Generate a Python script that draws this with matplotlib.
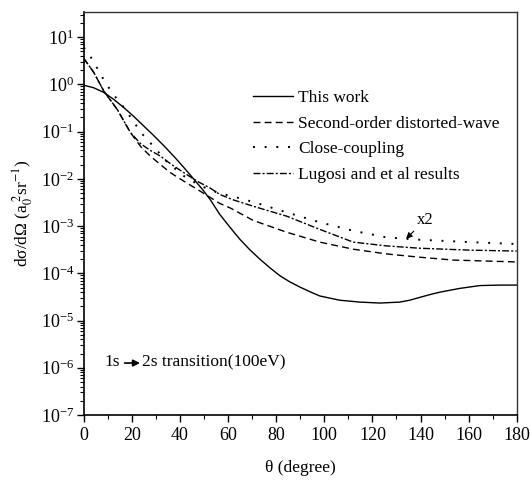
import numpy as np
import matplotlib
matplotlib.use("Agg")
import matplotlib.pyplot as plt

plt.rcParams['font.family'] = ['Liberation Serif', 'DejaVu Serif']
plt.rcParams['mathtext.fontset'] = 'stix'

# ---------------------------------------------------------------
# 1s -> 2s differential cross sections at 100 eV (log10 values)
# ---------------------------------------------------------------
theta_this = [0, 4, 8.3, 12.5, 16.6, 20.8, 24.9, 29, 33.3, 37.4, 41.6, 45.8,
              49.9, 52.7, 56.5, 60.7, 64.9, 69, 73.2, 77.3, 81.5, 85.6, 89.8,
              94, 98.1, 106.4, 114.8, 123.1, 131.4, 135.5, 139.7, 144, 148,
              156.3, 164.7, 173, 180]
log_this = [-0.02, -0.07, -0.17, -0.32, -0.49, -0.68, -0.88, -1.08, -1.30,
            -1.52, -1.76, -2.01, -2.26, -2.45, -2.75, -3.02, -3.28, -3.50,
            -3.70, -3.88, -4.05, -4.18, -4.29, -4.39, -4.48, -4.57, -4.61,
            -4.63, -4.61, -4.57, -4.51, -4.45, -4.40, -4.32, -4.26, -4.25, -4.25]

theta_dw = [0, 4.2, 8.3, 13.9, 19.4, 23.7, 27.7, 31.9, 36, 41.6, 47.1, 56.5,
            61, 70.4, 84.3, 98.1, 112, 125.8, 139.7, 153.6, 180]
log_dw = [0.55, 0.25, -0.14, -0.53, -1.02, -1.32, -1.52, -1.70, -1.87, -2.05,
          -2.22, -2.52, -2.62, -2.88, -3.13, -3.34, -3.49, -3.59, -3.66, -3.72,
          -3.76]

theta_cc = [0, 2.1, 5.5, 8.5, 11.8, 17.3, 20.8, 24.3, 29.1, 34.6, 41.6, 48.5,
            56.5, 61, 70.4, 84.3, 98.1, 112, 125.8, 139.7, 160.5, 180]
log_cc = [0.78, 0.65, 0.35, 0.08, -0.18, -0.53, -0.80, -1.05, -1.32, -1.64,
          -1.94, -2.15, -2.31, -2.36, -2.49, -2.71, -2.92, -3.10, -3.24, -3.29,
          -3.34, -3.38]

theta_lug = [0, 4.2, 8.3, 13.9, 19.4, 23.7, 27.7, 31.9, 36, 41.6, 47.1, 52.7,
             56.5, 62.4, 70.4, 84.3, 98.1, 112, 125.8, 139.7, 160.5, 180]
log_lug = [0.55, 0.25, -0.14, -0.53, -1.02, -1.26, -1.40, -1.52, -1.68, -1.87,
           -2.05, -2.20, -2.33, -2.45, -2.58, -2.79, -3.07, -3.34, -3.42, -3.47,
           -3.51, -3.53]

labels = ['This work', 'Second-order distorted-wave', 'Close-coupling',
          'Lugosi and et al results']

FS = 12.5

fig = plt.figure(figsize=(5.30, 4.82), dpi=100)
ax = fig.add_axes([0.158, 0.139, 0.817, 0.836])

ax.plot(theta_this, 10 ** np.array(log_this), color='black', lw=1.0,
        linestyle='-', label=labels[0])
ax.plot(theta_dw, 10 ** np.array(log_dw), color='black', lw=1.0,
        linestyle=(0, (5, 3)), label=labels[1])
ax.plot(theta_cc, 10 ** np.array(log_cc), color='black', lw=1.4,
        linestyle=(0, (1, 5)), label=labels[2])
ax.plot(theta_lug, 10 ** np.array(log_lug), color='black', lw=1.0,
        linestyle=(0, (5, 1.5, 1.5, 1.5)), label=labels[3])

ax.set_yscale('log')
ax.set_xlim(0, 180)
ax.set_ylim(1e-7, 10 ** 1.53)
ax.set_xticks(np.arange(0, 181, 20))
ax.set_xticks(np.arange(10, 181, 20), minor=True)
ax.set_yticks([10.0 ** k for k in range(-7, 2)])

ax.tick_params(axis='both', which='major', direction='out', length=5,
               width=1.0, labelsize=13, top=False, right=False)
ax.tick_params(axis='both', which='minor', direction='out', length=3,
               width=0.8, top=False, right=False)
ax.tick_params(axis='y', which='major', pad=2)

for side in ['left', 'bottom']:
    ax.spines[side].set_linewidth(1.2)
for side in ['top', 'right']:
    ax.spines[side].set_linewidth(1.0)
    ax.spines[side].set_color('#333333')

ax.set_xlabel('\u03b8 (degree)', fontsize=FS, labelpad=12)
ax.set_ylabel('d\u03c3/d\u03a9 (a$_0^{\\ 2}$sr$^{-1}$)', fontsize=FS, labelpad=4)

ax.legend(loc='upper left', bbox_to_anchor=(0.39, 0.807), frameon=False,
          fontsize=FS, handlelength=2.3, handletextpad=0.3, labelspacing=0.55,
          borderaxespad=0, borderpad=0)

# process label: 1s -> 2s with a filled arrow between the two states
ax.text(8.7, 10 ** -5.88, '1s', fontsize=FS, va='center', ha='left')
ax.annotate('', xy=(23.4, 10 ** -5.9), xytext=(17.0, 10 ** -5.9),
            arrowprops=dict(arrowstyle='-|>', color='black', lw=1.2,
                            mutation_scale=10, shrinkA=0, shrinkB=0))
ax.text(24.2, 10 ** -5.88, '2s transition(100eV)', fontsize=FS,
        va='center', ha='left')

ax.annotate('x2', xy=(134.0, 10 ** -3.27), xytext=(138.3, 10 ** -3.05),
            fontsize=12, ha='left', va='bottom',
            arrowprops=dict(arrowstyle='-|>', color='black', lw=0.8,
                            mutation_scale=9, shrinkA=0, shrinkB=0))

fig.savefig('out.png', dpi=100)
